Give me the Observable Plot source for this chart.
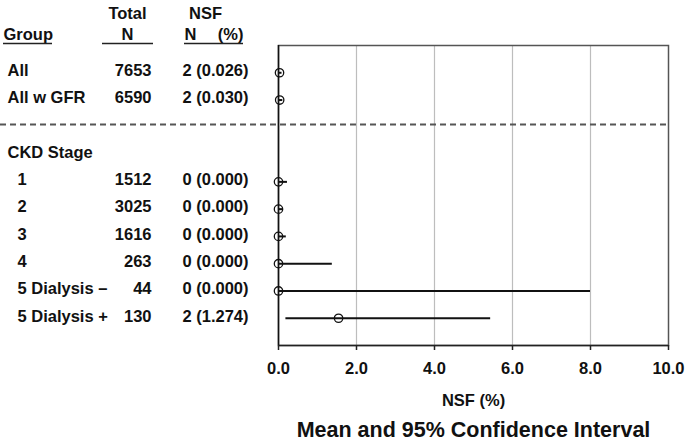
<!DOCTYPE html>
<html><head><meta charset="utf-8">
<script src="https://cdn.jsdelivr.net/npm/d3@7"></script>
<script src="https://cdn.jsdelivr.net/npm/@observablehq/plot@0.6"></script>
<style>
body{margin:0;background:#fff;}
#chart svg{font-family:"Liberation Sans",Arial,sans-serif;overflow:visible;}
</style>
</head><body><div id="chart"></div>
<script>
// ---- data ----
const groups = ["All", "All w GFR", "CKD Stage", "1", "2", "3", "4", "5 Dialysis \u2013", "5 Dialysis +"];
const level  = [0, 0, 0, 1, 1, 1, 1, 1, 1];
const totalN = [7653, 6590, null, 1512, 3025, 1616, 263, 44, 130];
const nsfN   = [2, 2, null, 0, 0, 0, 0, 0, 2];
const nsfPct = [0.026, 0.030, null, 0.000, 0.000, 0.000, 0.000, 0.000, 1.274];
const mean   = [0.026, 0.030, null, 0, 0, 0, 0, 0, 1.54];
const lower  = [0, 0, null, 0, 0, 0, 0, 0, 0.19];
const upper  = [0.09, 0.11, null, 0.23, 0.12, 0.20, 1.38, 8.0, 5.44];
const xTicks = [0, 2, 4, 6, 8, 10];
const xLabel = "NSF (%)";
const title  = "Mean and 95% Confidence Interval";
const headTop = ["Total", "NSF"];
const headBottom = ["Group", "N", "N", "(%)"];

// ---- layout (pixels) ----
const W = 685, H = 445;
const M = {top: 45, right: 17, bottom: 100, left: 278};
const col = {group: 7, stage: 17, total: 151, nsf: 248, totalHead: 127, nsfHead: 205, nsfN: 184, nsfP: 243};
const off = px => px - M.left;
const font = {fontSize: 16.5, fontWeight: "bold", fill: "#111"};

const rows = groups.map((g, i) => ({
  group: g, level: level[i], row: i < 2 ? i : i + 1,
  total: totalN[i], n: nsfN[i], pct: nsfPct[i],
  mean: mean[i], lo: lower[i], hi: upper[i]
}));
const valued = rows.filter(d => d.total != null);
const sepRow = 1.9;

const chart = Plot.plot({
  width: W, height: H,
  marginTop: M.top, marginRight: M.right, marginBottom: M.bottom, marginLeft: M.left,
  x: {domain: [0, 10]},
  y: {domain: [-1, 10], reverse: true, axis: null},
  marks: [
    Plot.gridX([2, 4, 6, 8], {stroke: "#bdbdbd", strokeOpacity: 1, strokeWidth: 1.2}),
    Plot.frame({stroke: "#555", strokeWidth: 1.5}),
    Plot.ruleX([0], {stroke: "#111", strokeWidth: 1.5}),
    Plot.ruleY([10], {stroke: "#222", strokeWidth: 1.5}),
    Plot.axisX({ticks: xTicks, tickFormat: d => d.toFixed(1), tickSize: 5, tickPadding: 12,
      fontSize: 16.5, fontWeight: "bold", label: null, stroke: "#222", strokeWidth: 1.5, fill: "#111"}),
    Plot.ruleY([sepRow], {stroke: "#555", strokeWidth: 2, strokeDasharray: "6,4", insetLeft: -M.left}),
    Plot.ruleY(valued, {y: "row", x1: "lo", x2: "hi", stroke: "#111", strokeWidth: 2}),
    Plot.dot(valued, {x: "mean", y: "row", r: 4.2, stroke: "#111", strokeWidth: 1.3, fill: "none"}),
    // table columns
    Plot.text(rows.filter(d => d.level === 0), {y: "row", text: "group", frameAnchor: "left",
      textAnchor: "start", dx: off(col.group), dy: -2, ...font}),
    Plot.text(rows.filter(d => d.level === 1), {y: "row", text: "group", frameAnchor: "left",
      textAnchor: "start", dx: off(col.stage), dy: -2, ...font}),
    Plot.text(valued, {y: "row", text: d => String(d.total), frameAnchor: "left",
      textAnchor: "end", dx: off(col.total), dy: -2, ...font}),
    Plot.text(valued, {y: "row", text: d => `${d.n} (${d.pct.toFixed(3)})`, frameAnchor: "left",
      textAnchor: "end", dx: off(col.nsf), dy: -2, ...font}),
    // headers
    Plot.text([headTop[0]], {y: -1, frameAnchor: "left", dx: off(col.totalHead), dy: -27, lineAnchor: "bottom", textAnchor: "middle", ...font}),
    Plot.text([headTop[1]], {y: -1, frameAnchor: "left", dx: off(col.nsfHead), dy: -27, lineAnchor: "bottom", textAnchor: "middle", ...font}),
    Plot.text([headBottom[0]], {y: -1, frameAnchor: "left", dx: off(3), dy: -6, lineAnchor: "bottom", textAnchor: "start", ...font}),
    Plot.text([headBottom[1]], {y: -1, frameAnchor: "left", dx: off(col.totalHead), dy: -6, lineAnchor: "bottom", textAnchor: "middle", ...font}),
    Plot.text([headBottom[2]], {y: -1, frameAnchor: "left", dx: off(col.nsfN), dy: -6, lineAnchor: "bottom", textAnchor: "start", ...font}),
    Plot.text([headBottom[3]], {y: -1, frameAnchor: "left", dx: off(col.nsfP), dy: -6, lineAnchor: "bottom", textAnchor: "end", ...font}),
    // underlines
    Plot.ruleY([-1], {dy: -2, insetLeft: off(3), insetRight: (W - M.right) - 52, stroke: "#222", strokeWidth: 1.5}),
    Plot.ruleY([-1], {dy: -2, insetLeft: off(102), insetRight: (W - M.right) - 153, stroke: "#222", strokeWidth: 1.5}),
    Plot.ruleY([-1], {dy: -2, insetLeft: off(184), insetRight: (W - M.right) - 243, stroke: "#222", strokeWidth: 1.5}),
    // x label & title
    Plot.text([xLabel], {frameAnchor: "bottom", dy: 60, textAnchor: "middle", ...font}),
    Plot.text([title], {frameAnchor: "bottom", dy: 91, textAnchor: "middle", fontSize: 21.5, fontWeight: "bold", fill: "#111"})
  ]
});
document.getElementById("chart").appendChild(chart);
</script>
</body></html>
